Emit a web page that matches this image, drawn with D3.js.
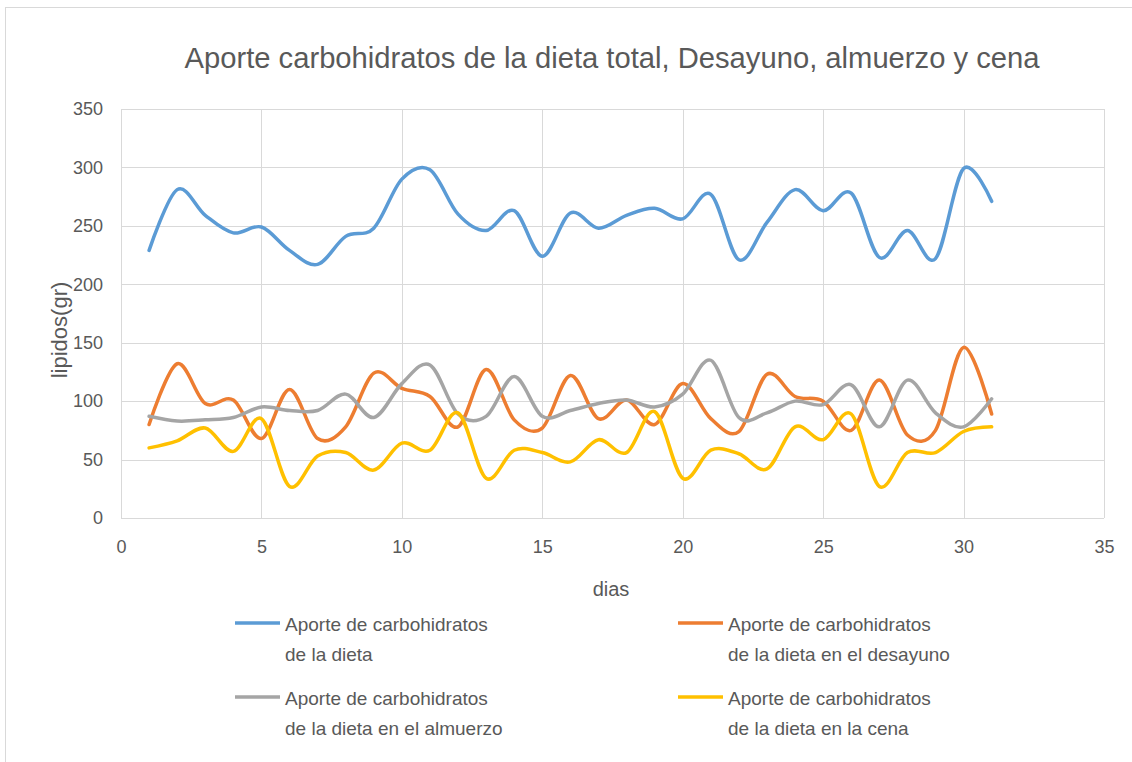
<html>
<head>
<meta charset="utf-8">
<style>
  body { margin: 0; background: #fff; }
  text { font-family: "Liberation Sans", Arial, sans-serif; fill: #595959; }
</style>
</head>
<body>
<script src="https://d3js.org/d3.v7.min.js"></script>
<script>
// days 1..31
var dias = d3.range(1, 32);

var total = [229, 281, 259, 244, 249, 229, 217, 241, 248, 290, 298, 260, 246, 263, 224, 261, 248, 259, 265, 256, 277, 221, 253, 281, 263, 278, 223, 246, 222, 299, 271];
var desayuno = [80, 132, 98, 101, 68, 110, 68, 78, 124, 111, 104, 78, 127, 84, 77, 122, 85, 101, 80, 115, 85, 74, 123, 104, 100, 75, 118, 71, 75, 146, 89];
var almuerzo = [87, 83, 84, 86, 95, 92, 92, 106, 86, 115, 131, 89, 87, 121, 87, 92, 98, 101, 95, 106, 135, 86, 90, 100, 97, 114, 78, 118, 90, 78, 102];
var cena = [60, 66, 77, 57, 85, 27, 53, 56, 41, 64, 58, 90, 34, 58, 56, 48, 67, 56, 91, 34, 58, 55, 42, 78, 67, 89, 27, 56, 56, 74, 78];

var seriesNames = [
  ["Aporte de carbohidratos", "de la dieta"],
  ["Aporte de carbohidratos", "de la dieta en el desayuno"],
  ["Aporte de carbohidratos", "de la dieta en el almuerzo"],
  ["Aporte de carbohidratos", "de la dieta en la cena"]
];
var colors = ["#5b9bd5", "#ed7d31", "#a5a5a5", "#ffc000"];
var xTicks = [0, 5, 10, 15, 20, 25, 30, 35];
var yTicks = [0, 50, 100, 150, 200, 250, 300, 350];

var W = 1132, H = 762;
var svg = d3.select("body").append("svg").attr("width", W).attr("height", H);

// chart border
svg.append("rect").attr("x", 5.5).attr("y", 7.5).attr("width", 1140).attr("height", 800)
   .attr("fill", "none").attr("stroke", "#d9d9d9");

var x = d3.scaleLinear().domain([0, 35]).range([121, 1104]);
var y = d3.scaleLinear().domain([0, 350]).range([518, 109]);

// grid
svg.append("g").selectAll("line").data(yTicks).enter().append("line")
   .attr("x1", x(0)).attr("x2", x(35))
   .attr("y1", function(d){ return Math.round(y(d)) + 0.5; })
   .attr("y2", function(d){ return Math.round(y(d)) + 0.5; })
   .attr("stroke", "#d9d9d9").attr("stroke-width", 1);
svg.append("g").selectAll("line").data(xTicks).enter().append("line")
   .attr("x1", function(d){ return Math.round(x(d)) + 0.5; })
   .attr("x2", function(d){ return Math.round(x(d)) + 0.5; })
   .attr("y1", y(350)).attr("y2", y(0))
   .attr("stroke", "#d9d9d9").attr("stroke-width", 1);

// axes labels
var yAxis = d3.axisLeft(y).tickValues(yTicks).tickSize(0).tickPadding(18);
var gy = svg.append("g").attr("transform", "translate(" + x(0) + ",0)").call(yAxis);
gy.select(".domain").remove();
gy.selectAll("text").style("font-size", "18px").attr("fill", "#595959");

var xAxis = d3.axisBottom(x).tickValues(xTicks).tickSize(0).tickPadding(22);
var gx = svg.append("g").attr("transform", "translate(0," + y(0) + ")").call(xAxis);
gx.select(".domain").remove();
gx.selectAll("text").style("font-size", "18px").attr("fill", "#595959");

// titles
svg.append("text").attr("x", 612).attr("y", 68).attr("text-anchor", "middle")
   .attr("textLength", 855).attr("lengthAdjust", "spacingAndGlyphs")
   .style("font-size", "30px").text("Aporte carbohidratos de la dieta total, Desayuno, almuerzo y cena");
svg.append("text").attr("transform", "translate(67,330) rotate(-90)").attr("text-anchor", "middle")
   .style("font-size", "22px").text("lipidos(gr)");
svg.append("text").attr("x", 611).attr("y", 596).attr("text-anchor", "middle")
   .style("font-size", "20px").text("dias");

// lines
var allSeries = [total, desayuno, almuerzo, cena];
var line = d3.line()
   .x(function(d, i){ return x(dias[i]); })
   .y(function(d){ return y(d); })
   .curve(d3.curveCardinal.tension(0));
svg.append("g").selectAll("path").data(allSeries).enter().append("path")
   .attr("d", line)
   .attr("fill", "none")
   .attr("stroke", function(d, i){ return colors[i]; })
   .attr("stroke-width", 3.5)
   .attr("stroke-linecap", "round")
   .attr("stroke-linejoin", "round");

// legend
var legPos = [[235, 623], [678, 623], [235, 697], [678, 697]];
var leg = svg.append("g").selectAll("g").data(seriesNames).enter().append("g")
   .attr("transform", function(d, i){ return "translate(" + legPos[i][0] + "," + legPos[i][1] + ")"; });
leg.append("line").attr("x1", 0).attr("x2", 45).attr("y1", 0).attr("y2", 0)
   .attr("stroke", function(d, i){ return colors[i]; }).attr("stroke-width", 3.5);
leg.append("text").attr("x", 50).attr("y", 8).style("font-size", "19px").text(function(d){ return d[0]; });
leg.append("text").attr("x", 50).attr("y", 38).style("font-size", "19px").text(function(d){ return d[1]; });
</script>
</body>
</html>
